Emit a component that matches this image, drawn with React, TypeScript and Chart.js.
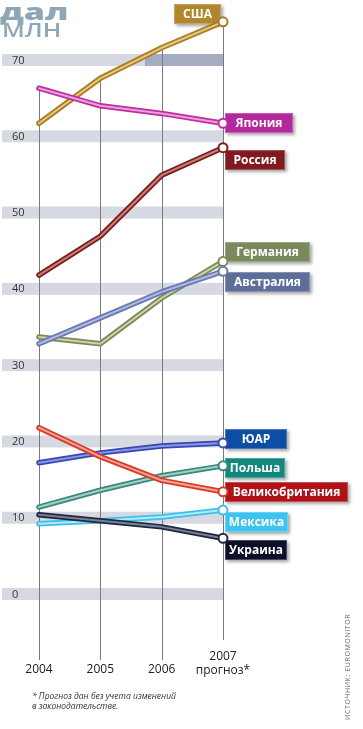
import React, { useEffect, useRef } from "react";
import { Chart, registerables } from "chart.js";

Chart.register(...registerables);

const years = [2004, 2005, 2006, 2007];
const yearLabels = ["2004", "2005", "2006", "2007"];
const forecastNote = "прогноз*";
const yTicks = [0, 10, 20, 30, 40, 50, 60, 70];

const seriesNames = ["США", "Япония", "Россия", "Германия", "Австралия", "ЮАР", "Польша", "Великобритания", "Мексика", "Украина"];
const usa = [61.7, 67.6, 71.6, 75.0];
const japan = [66.3, 64.0, 63.0, 61.7];
const russia = [41.8, 46.9, 54.9, 58.5];
const germany = [33.7, 32.8, 38.8, 43.6];
const australia = [32.8, 36.2, 39.6, 42.3];
const sar = [17.2, 18.5, 19.4, 19.8];
const poland = [11.4, 13.6, 15.5, 16.8];
const uk = [21.8, 18.0, 14.9, 13.4];
const mexico = [9.2, 9.6, 10.1, 11.0];
const ukraine = [10.4, 9.6, 8.8, 7.3];
const seriesValues = [usa, japan, russia, germany, australia, sar, poland, uk, mexico, ukraine];

// styles: outer line, inner line, label box colour, label box offset/width
const outerColors = ["#a87d22", "#bd2fa0", "#7a1c1c", "#7c8a58", "#6a78b0", "#3848b0", "#3a8a7a", "#d83a28", "#3cc0ea", "#202840"];
const innerColors = ["#e6c985", "#eaa0da", "#c88078", "#cbd3ac", "#b0bae2", "#8898e4", "#a2cec6", "#f2a595", "#b0eafa", "#788098"];
const boxColors = ["#b0872c", "#b5279c", "#811a1e", "#7b8a5c", "#5e6e98", "#0b4ea2", "#11877e", "#b0121a", "#3cc4ef", "#0b0f2a"];
const boxDx = [-49, 2, 2, 2, 2, 2, 2, 2, 2, 2];
const boxDy = [-18, -10, 2, -19, 1, -14, -8, -10, 2, 2];
const boxW = [47, 68, 60, 85, 85, 62, 60, 123, 63, 62];

const decorPlugin = {
  id: "decor",
  beforeDatasetsDraw(chart: any) {
    const ctx = chart.ctx;
    const xs = chart.scales.x;
    const ys = chart.scales.y;
    const xRight = xs.getPixelForValue(years[years.length - 1]);
    ctx.save();
    // bands
    yTicks.forEach((t) => {
      const y = ys.getPixelForValue(t);
      ctx.fillStyle = "#d6d9e1";
      ctx.fillRect(2, y - 6, xRight - 2, 12);
      if (t === 70) {
        ctx.fillStyle = "#a5acc0";
        ctx.fillRect(145, y - 6, xRight - 145, 12);
      }
      ctx.fillStyle = "#333";
      ctx.font = "11px 'Open Sans'";
      ctx.textAlign = "left";
      ctx.textBaseline = "middle";
      ctx.fillText(String(t), 12, y + 0.5);
    });
    // vertical lines
    ctx.strokeStyle = "#7a7a7a";
    ctx.lineWidth = 1;
    years.forEach((yr, i) => {
      const x = Math.round(xs.getPixelForValue(yr)) + 0.5;
      const top = Math.max(...seriesValues.map((s) => s[i]));
      const yTop = ys.getPixelForValue(top);
      const yBot = i === years.length - 1 ? 640 : 660;
      ctx.beginPath();
      ctx.moveTo(x, yTop);
      ctx.lineTo(x, yBot);
      ctx.stroke();
    });
    // year labels
    ctx.fillStyle = "#222";
    ctx.font = "12px 'Open Sans'";
    ctx.textAlign = "center";
    ctx.textBaseline = "middle";
    years.forEach((yr, i) => {
      const x = xs.getPixelForValue(yr);
      if (i === years.length - 1) {
        ctx.fillText(yearLabels[i], x, 657);
        ctx.fillText(forecastNote, x, 671);
      } else {
        ctx.fillText(yearLabels[i], x, 670);
      }
    });
    // label boxes
    seriesNames.forEach((name, k) => {
      const vals = seriesValues[k];
      const px = xs.getPixelForValue(years[years.length - 1]);
      const py = ys.getPixelForValue(vals[vals.length - 1]);
      const bx = Math.round(px + boxDx[k]);
      const by = Math.round(py + boxDy[k]);
      ctx.save();
      ctx.shadowColor = "rgba(0,0,0,0.35)";
      ctx.shadowBlur = 3;
      ctx.shadowOffsetX = 2;
      ctx.shadowOffsetY = 2;
      ctx.fillStyle = boxColors[k];
      ctx.fillRect(bx, by, boxW[k], 20);
      ctx.restore();
      ctx.strokeStyle = "rgba(255,255,255,0.25)";
      ctx.lineWidth = 1;
      ctx.strokeRect(bx + 0.5, by + 0.5, boxW[k] - 1, 19);
      ctx.fillStyle = "#ffffff";
      ctx.font = "bold 12px 'Open Sans'";
      ctx.textAlign = "center";
      ctx.textBaseline = "middle";
      ctx.fillText(name, bx + boxW[k] / 2, by + 10.5);
    });
    ctx.restore();
  },
};

export default function App() {
  const ref = useRef<HTMLCanvasElement | null>(null);
  useEffect(() => {
    if (!ref.current) return;
    const N = seriesNames.length;
    const datasets: any[] = [];
    seriesNames.forEach((name, k) => {
      const data = seriesValues[k].map((v, i) => ({ x: years[i], y: v }));
      datasets.push({
        label: name + " outline",
        data,
        borderColor: outerColors[k],
        borderWidth: 5.5,
        pointRadius: 0,
        tension: 0,
        fill: false,
        clip: false,
        order: 2 * (N - k) + 1,
        borderCapStyle: "round",
        borderJoinStyle: "round",
      });
      datasets.push({
        label: name,
        data,
        borderColor: innerColors[k],
        borderWidth: 2,
        pointRadius: [0, 0, 0, 4.5],
        pointBackgroundColor: "#ffffff",
        pointBorderColor: outerColors[k],
        pointBorderWidth: 2,
        tension: 0,
        fill: false,
        clip: false,
        order: 2 * (N - k),
        borderCapStyle: "round",
        borderJoinStyle: "round",
      });
    });
    const chart = new Chart(ref.current, {
      type: "line",
      data: { datasets },
      options: {
        animation: false,
        responsive: false,
        devicePixelRatio: 1,
        layout: { padding: { left: 39, right: 140, top: 6.6, bottom: 73.97 } },
        plugins: { legend: { display: false }, tooltip: { enabled: false } },
        scales: {
          x: { type: "linear", min: 2004, max: 2007, display: false },
          y: { type: "linear", min: -8, max: 77, display: false },
        },
      },
      plugins: [decorPlugin],
    } as any);
    return () => chart.destroy();
  }, []);

  return (
    <div style={{ position: "absolute", left: 0, top: 0, width: 363, height: 729, background: "#fff", overflow: "hidden" }}>
      <canvas ref={ref} width={363} height={729} style={{ position: "absolute", left: 0, top: 0 }} />
      <div style={{ position: "absolute", left: 0, top: 0, fontFamily: "'Open Sans', sans-serif", fontWeight: 800, fontSize: 22, color: "#8ea7b6", lineHeight: "22px", transformOrigin: "0 0", transform: "scaleX(1.55)", whiteSpace: "nowrap" }}>дал</div>
      <div style={{ position: "absolute", left: 2, top: 21, fontFamily: "'Open Sans', sans-serif", fontWeight: 600, fontSize: 19, color: "#8ea7b6", lineHeight: "19px", transformOrigin: "0 0", transform: "scaleX(1.3)", whiteSpace: "nowrap" }}>МЛН</div>
      <div style={{ position: "absolute", left: 32, top: 691, fontFamily: "'Open Sans', sans-serif", fontStyle: "italic", fontSize: 8.5, color: "#333", lineHeight: "9.5px" }}>
        * Прогноз дан без учета изменений<br />в законодательстве.
      </div>
      <div style={{ position: "absolute", left: 344, top: 720, transformOrigin: "0 0", transform: "rotate(-90deg)", whiteSpace: "nowrap", fontFamily: "'Open Sans', sans-serif", fontSize: 7, letterSpacing: 0.6, color: "#666", lineHeight: "8px" }}>
        ИСТОЧНИК: EUROMONITOR
      </div>
    </div>
  );
}
